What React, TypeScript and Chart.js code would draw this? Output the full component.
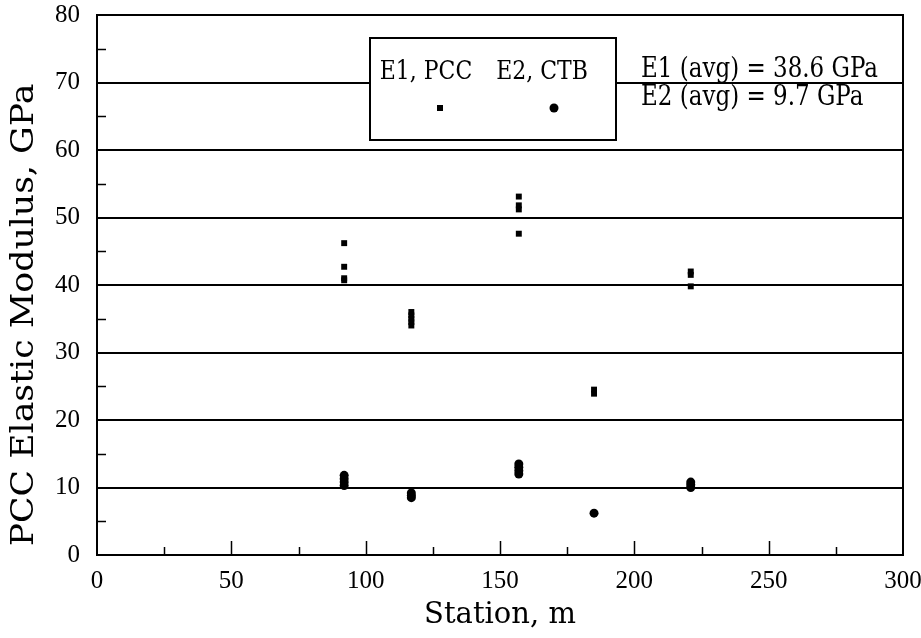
import React, { useEffect, useRef } from "react";
import { Chart, registerables } from "chart.js";

Chart.register(...registerables);

// ---- data ----
const pccStations = [92, 92, 92, 92, 117, 117, 117, 117, 117, 157, 157, 157, 157, 185, 185, 221, 221, 221];
const pccModulus = [46.2, 42.7, 41.0, 40.7, 36.0, 35.5, 35.0, 34.5, 34.0, 53.1, 51.8, 51.2, 47.6, 24.5, 23.9, 42.0, 41.5, 39.8];

const ctbStations = [92, 92, 92, 92, 117, 117, 117, 157, 157, 157, 157, 185, 221, 221, 221];
const ctbModulus = [11.8, 11.3, 10.8, 10.3, 9.2, 8.8, 8.5, 13.5, 13.0, 12.5, 12.0, 6.2, 10.8, 10.4, 10.0];

const xTickValues = [0, 50, 100, 150, 200, 250, 300];
const yTickValues = [0, 10, 20, 30, 40, 50, 60, 70, 80];
const xMinorStep = 25;
const yMinorStep = 5;

const seriesLabels = ["E1, PCC", "E2, CTB"];
const averageNotes = ["E1 (avg) = 38.6 GPa", "E2 (avg) = 9.7 GPa"];
const xTitle = "Station, m";
const yTitle = "PCC Elastic Modulus, GPa";

const FONT = "'DejaVu Serif', serif";
const TICK_FONT = "'Liberation Serif', serif";
const V_STRETCH = 1.2;

function stretchedText(ctx: any, text: string, x: number, y: number) {
  ctx.save();
  ctx.translate(x, y);
  ctx.scale(1, V_STRETCH);
  ctx.fillText(text, 0, 0);
  ctx.restore();
}

const framePlugin = {
  id: "frameAndLegend",
  afterDraw(chart: any) {
    const { ctx, chartArea } = chart;
    const { left, right, top, bottom } = chartArea;
    const xs = chart.scales.x;
    const ys = chart.scales.y;
    ctx.save();
    ctx.strokeStyle = "#000";
    ctx.lineWidth = 2;
    ctx.strokeRect(left, top, right - left, bottom - top);

    // inward minor ticks
    ctx.lineWidth = 1.5;
    ctx.beginPath();
    for (let v = xMinorStep; v < xs.max; v += xMinorStep) {
      const px = Math.round(xs.getPixelForValue(v)) + 0.5;
      const len = v % 50 === 0 ? 14 : 8;
      ctx.moveTo(px, bottom);
      ctx.lineTo(px, bottom - len);
    }
    for (let v = yMinorStep; v < ys.max; v += yMinorStep) {
      if (v % 10 === 0) continue;
      const py = Math.round(ys.getPixelForValue(v)) + 0.5;
      ctx.moveTo(left, py);
      ctx.lineTo(left + 9, py);
    }
    ctx.stroke();

    // y axis title (rotated, stretched along its length like the scan)
    ctx.fillStyle = "#000";
    ctx.save();
    ctx.translate(25, 315);
    ctx.rotate(-Math.PI / 2);
    ctx.scale(1.12, 1);
    ctx.font = `31px ${FONT}`;
    ctx.textAlign = "center";
    ctx.textBaseline = "middle";
    ctx.fillText(yTitle, 0, 0);
    ctx.restore();

    // legend box
    const bx = left + 273;
    const by = top + 23;
    const bw = 246;
    const bh = 102;
    ctx.fillStyle = "#fff";
    ctx.fillRect(bx, by, bw, bh);
    ctx.lineWidth = 2;
    ctx.strokeStyle = "#000";
    ctx.strokeRect(bx, by, bw, bh);

    ctx.fillStyle = "#000";
    ctx.font = `22px ${FONT}`;
    ctx.textAlign = "center";
    ctx.textBaseline = "middle";
    stretchedText(ctx, seriesLabels[0], bx + 56, by + 34);
    stretchedText(ctx, seriesLabels[1], bx + 172, by + 34);
    // markers
    ctx.fillRect(bx + 70 - 3, by + 70 - 3, 6, 6);
    ctx.beginPath();
    ctx.arc(bx + 184, by + 70, 4.5, 0, Math.PI * 2);
    ctx.fill();

    // average notes
    ctx.font = `23px ${FONT}`;
    ctx.textAlign = "left";
    stretchedText(ctx, averageNotes[0], left + 544, top + 55);
    stretchedText(ctx, averageNotes[1], left + 544, top + 83);
    ctx.restore();
  },
};

export default function App() {
  const canvasRef = useRef<HTMLCanvasElement | null>(null);

  useEffect(() => {
    document.body.style.margin = "0";
    const canvas = canvasRef.current;
    if (!canvas) return;
    const chart = new Chart(canvas, {
      type: "scatter",
      data: {
        datasets: [
          {
            label: seriesLabels[0],
            data: pccStations.map((s, i) => ({ x: s, y: pccModulus[i] })),
            pointStyle: "rect",
            pointRadius: 4.2,
            backgroundColor: "#000",
            borderColor: "#000",
            borderWidth: 0,
          },
          {
            label: seriesLabels[1],
            data: ctbStations.map((s, i) => ({ x: s, y: ctbModulus[i] })),
            pointStyle: "circle",
            pointRadius: 4.5,
            backgroundColor: "#000",
            borderColor: "#000",
            borderWidth: 0,
          },
        ],
      },
      options: {
        responsive: false,
        animation: false,
        devicePixelRatio: 1,
        layout: { padding: { top: 15, right: 18, left: 0, bottom: 0 } },
        plugins: {
          legend: { display: false },
          tooltip: { enabled: false },
        },
        scales: {
          x: {
            type: "linear",
            min: 0,
            max: 300,
            afterBuildTicks: (scale: any) => {
              scale.ticks = xTickValues.map((v) => ({ value: v }));
            },
            afterFit: (scale: any) => {
              scale.height = 83;
              scale.paddingLeft = 0;
              scale.paddingRight = 0;
            },
            grid: { display: false, drawTicks: false },
            border: { display: true, color: "#000", width: 2 },
            ticks: {
              color: "#000",
              font: { family: TICK_FONT, size: 25 },
              padding: 11,
              maxRotation: 0,
            },
            title: {
              display: true,
              text: xTitle,
              color: "#000",
              font: { family: FONT, size: 29 },
              padding: { top: 0, bottom: 5 },
            },
          },
          y: {
            type: "linear",
            min: 0,
            max: 80,
            afterBuildTicks: (scale: any) => {
              scale.ticks = yTickValues.map((v) => ({ value: v }));
            },
            afterFit: (scale: any) => {
              scale.width = 97;
              scale.paddingTop = 0;
              scale.paddingBottom = 0;
            },
            grid: { color: "#000", lineWidth: 2, drawTicks: false },
            border: { display: true, color: "#000", width: 2 },
            ticks: {
              color: "#000",
              font: { family: TICK_FONT, size: 25 },
              padding: 17,
            },
            title: { display: false },
          },
        },
      },
      plugins: [framePlugin],
    } as any);
    return () => chart.destroy();
  }, []);

  return (
    <div style={{ width: 921, height: 638, background: "#fff" }}>
      <canvas ref={canvasRef} width={921} height={638} style={{ display: "block" }} />
    </div>
  );
}
